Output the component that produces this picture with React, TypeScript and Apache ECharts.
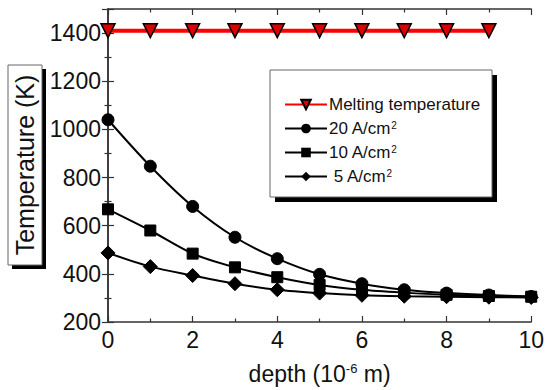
import React, { useEffect, useRef } from "react";
import * as echarts from "echarts";

const depth = [0, 1, 2, 3, 4, 5, 6, 7, 8, 9, 10];
const meltingDepth = [0, 1, 2, 3, 4, 5, 6, 7, 8, 9];
const melting = [1410, 1410, 1410, 1410, 1410, 1410, 1410, 1410, 1410, 1410];
const s20 = [1040, 847, 680, 552, 463, 398, 359, 334, 320, 312, 306];
const s10 = [668, 580, 484, 427, 386, 354, 334, 322, 313, 308, 305];
const s5 = [487, 430, 393, 359, 334, 320, 311, 307, 305, 303, 302];
const seriesNames = ["Melting temperature", "20 A/cm2", "10 A/cm2", " 5 A/cm2"];
const legendLabels: Record<string, string> = {
  "Melting temperature": "Melting temperature",
  "20 A/cm2": "20 A/cm{sup|2}",
  "10 A/cm2": "10 A/cm{sup|2}",
  " 5 A/cm2": " 5 A/cm{sup|2}",
};

const FONT = "Liberation Sans, Arial, sans-serif";

export default function App() {
  const ref = useRef<HTMLDivElement>(null);
  useEffect(() => {
    if (!ref.current) return;
    const chart = echarts.init(ref.current, null, { renderer: "svg" });
    const pairs = (xs: number[], ys: number[]) => xs.map((x, i) => [x, ys[i]]);
    const axisLine = { show: true, lineStyle: { color: "#333", width: 1.5 } };
    const tick = { show: true, inside: true, length: 6, lineStyle: { color: "#333", width: 1.2 } };
    const minor = { show: true, splitNumber: 2, length: 3.5, lineStyle: { color: "#333", width: 1.2 } };
    const blackLine = (name: string, data: number[], symbol: string, size: number) => ({
      type: "line",
      name,
      data: pairs(depth, data),
      smooth: 0.3,
      symbol,
      symbolSize: size,
      lineStyle: { color: "#000", width: 2 },
      itemStyle: { color: "#000", borderColor: "#000" },
      clip: false,
      z: 3,
    });
    chart.setOption({
      animation: false,
      grid: { left: 108, right: 14, top: 9, bottom: 64 },
      textStyle: { fontFamily: FONT },
      xAxis: [
        {
          type: "value",
          min: 0,
          max: 10,
          interval: 2,
          axisLine,
          axisTick: tick,
          minorTick: minor,
          splitLine: { show: false },
          axisLabel: { fontSize: 23, color: "#111", margin: 6, fontFamily: FONT, formatter: (v: number) => String(v) },
          name: "depth (10{sup|-6} m)",
          nameLocation: "middle",
          nameGap: 40,
          nameTextStyle: {
            fontSize: 23,
            color: "#111",
            fontFamily: FONT,
            rich: { sup: { fontSize: 13, verticalAlign: "top", color: "#111", fontFamily: FONT } },
          },
        },
        {
          type: "value",
          position: "top",
          min: 0,
          max: 10,
          interval: 2,
          axisLine,
          axisTick: tick,
          minorTick: minor,
          splitLine: { show: false },
          axisLabel: { show: false },
        },
      ],
      yAxis: [
        {
          type: "value",
          min: 200,
          max: 1500,
          interval: 200,
          axisLine,
          axisTick: tick,
          minorTick: minor,
          splitLine: { show: false },
          axisLabel: {
            fontSize: 23,
            color: "#111",
            margin: 7,
            showMaxLabel: false,
            fontFamily: FONT,
            formatter: (v: number) => String(v),
          },
        },
        {
          type: "value",
          position: "right",
          min: 200,
          max: 1500,
          interval: 200,
          axisLine,
          axisTick: tick,
          minorTick: minor,
          splitLine: { show: false },
          axisLabel: { show: false },
        },
      ],
      legend: {
        orient: "vertical",
        left: 279,
        top: 91,
        itemWidth: 42,
        itemHeight: 12,
        itemGap: 7,
        data: seriesNames,
        formatter: (n: string) => legendLabels[n] ?? n,
        textStyle: {
          fontSize: 17,
          color: "#111",
          fontFamily: FONT,
          padding: [0, 0, 0, -3],
          rich: { sup: { fontSize: 10, verticalAlign: "top", color: "#111", fontFamily: FONT } },
        },
        z: 10,
      },
      graphic: [
        { type: "rect", shape: { x: 275, y: 75, width: 222, height: 127 }, style: { fill: "#000" }, z: 5 },
        {
          type: "rect",
          shape: { x: 270, y: 70, width: 222, height: 127 },
          style: { fill: "#fff", stroke: "#666", lineWidth: 1 },
          z: 6,
        },
        { type: "rect", shape: { x: 12, y: 69, width: 34, height: 200 }, style: { fill: "#000" }, z: 5 },
        {
          type: "rect",
          shape: { x: 8, y: 65, width: 34, height: 200 },
          style: { fill: "#fff", stroke: "#666", lineWidth: 1 },
          z: 6,
        },
        {
          type: "text",
          x: 25,
          y: 165,
          rotation: Math.PI / 2,
          z: 7,
          style: {
            text: "Temperature (K)",
            fontSize: 25,
            fontFamily: FONT,
            fill: "#111",
            align: "center",
            verticalAlign: "middle",
          },
        },
      ],
      series: [
        {
          type: "line",
          name: seriesNames[0],
          data: pairs(meltingDepth, melting),
          symbol: "triangle",
          symbolRotate: 180,
          symbolSize: 14,
          lineStyle: { color: "#ff0000", width: 4 },
          itemStyle: { color: "#dd0000", borderColor: "#000", borderWidth: 1.5 },
          clip: false,
          z: 4,
        },
        blackLine(seriesNames[1], s20, "circle", 12),
        blackLine(seriesNames[2], s10, "rect", 11),
        blackLine(seriesNames[3], s5, "diamond", 14),
      ],
    });
    return () => chart.dispose();
  }, []);
  return <div ref={ref} style={{ width: 547, height: 390, position: "absolute", left: 0, top: 0 }} />;
}
